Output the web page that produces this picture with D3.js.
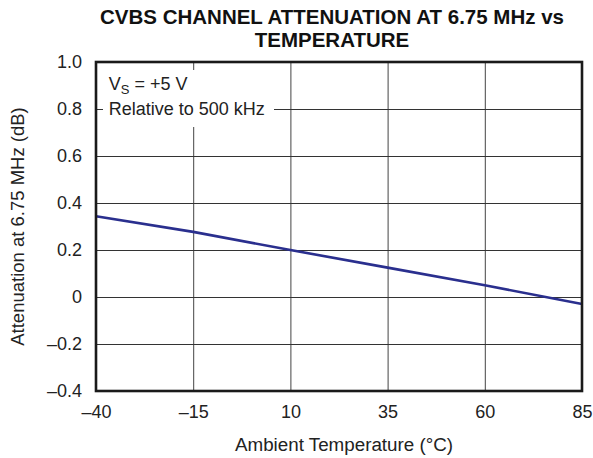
<!DOCTYPE html>
<html>
<head>
<meta charset="utf-8">
<script src="https://cdn.jsdelivr.net/npm/d3@7"></script>
<style>
  html, body { margin: 0; padding: 0; background: #fff; }
  svg { display: block; font-family: "Liberation Sans", Arial, Helvetica, sans-serif; }
</style>
</head>
<body>
<svg id="chart" width="593" height="458"></svg>
<script>
// ---- data ----
const titleLines = ["CVBS CHANNEL ATTENUATION AT 6.75 MHz vs", "TEMPERATURE"];
const xLabel = "Ambient Temperature (°C)";
const yLabel = "Attenuation at 6.75 MHz (dB)";
const temperatures = [-40, -15, 10, 35, 60, 85];
const attenuation = [0.344, 0.277, 0.200, 0.125, 0.050, -0.030];
const xTicks = [-40, -15, 10, 35, 60, 85];
const yTicks = [-0.4, -0.2, 0, 0.2, 0.4, 0.6, 0.8, 1.0];
const annotationLines = ["Relative to 500 kHz"];

// ---- layout ----
const svg = d3.select("#chart");
const margin = { left: 96, right: 11, top: 62, bottom: 67 };
const W = 593, H = 458;
const w = W - margin.left - margin.right;
const h = H - margin.top - margin.bottom;

const x = d3.scaleLinear().domain([-40, 85]).range([0, w]);
const y = d3.scaleLinear().domain([-0.4, 1.0]).range([h, 0]);

const fmtX = d => (d < 0 ? "\u2013" + Math.abs(d) : String(d));
const fmtY = d => {
  if (Math.abs(d) < 1e-9) return "0";
  const s = Math.abs(d).toFixed(1);
  return d < 0 ? "\u2013" + s : s;
};

const g = svg.append("g").attr("transform", `translate(${margin.left},${margin.top})`);

// title
svg.append("g").selectAll("text").data(titleLines).join("text")
  .attr("x", 332)
  .attr("y", (d, i) => 24 + i * 22.5)
  .attr("text-anchor", "middle")
  .attr("font-weight", "bold")
  .attr("font-size", "20.5px")
  .attr("fill", "#111")
  .text(d => d);

// x axis with gridlines
const xAxis = g.append("g")
  .attr("transform", `translate(0,${h})`)
  .call(d3.axisBottom(x).tickValues(xTicks).tickFormat(fmtX).tickSize(-h).tickPadding(14));
xAxis.select(".domain").remove();
xAxis.selectAll(".tick line").attr("stroke", "#444").attr("stroke-width", 1);
xAxis.selectAll(".tick text").attr("font-size", "18px").attr("fill", "#222")
  .attr("font-family", "Liberation Sans, Arial, sans-serif");

// y axis with gridlines
const yAxis = g.append("g")
  .call(d3.axisLeft(y).tickValues(yTicks).tickFormat(fmtY).tickSize(-w).tickPadding(14));
yAxis.select(".domain").remove();
yAxis.selectAll(".tick line").attr("stroke", "#333").attr("stroke-width", 1);
yAxis.selectAll(".tick text").attr("font-size", "18px").attr("fill", "#222")
  .attr("font-family", "Liberation Sans, Arial, sans-serif");

// annotation box (covers gridlines)
g.append("rect")
  .attr("x", 7).attr("y", 8).attr("width", 171).attr("height", 57)
  .attr("fill", "#fff");

const ann = g.append("text")
  .attr("x", 12.7).attr("y", 28.3)
  .attr("font-size", "18px").attr("fill", "#222");
ann.append("tspan").text("V");
ann.append("tspan").attr("font-size", "13px").attr("dy", 3.5).text("S");
ann.append("tspan").attr("dy", -3.5).text(" = +5 V");

g.append("g").selectAll("text").data(annotationLines).join("text")
  .attr("x", 12.7).attr("y", (d, i) => 53.3 + i * 25)
  .attr("font-size", "18px").attr("fill", "#222")
  .text(d => d);

// data line
const pts = temperatures.map((t, i) => [t, attenuation[i]]);
g.append("path")
  .datum(pts)
  .attr("fill", "none")
  .attr("stroke", "#2a2f8e")
  .attr("stroke-width", 2.6)
  .attr("d", d3.line().x(d => x(d[0])).y(d => y(d[1])));

// plot border
g.append("rect")
  .attr("x", 0).attr("y", 0).attr("width", w).attr("height", h)
  .attr("fill", "none").attr("stroke", "#1a1a1a").attr("stroke-width", 2.6);

// axis titles
svg.append("text")
  .attr("x", 344).attr("y", 450.5)
  .attr("text-anchor", "middle")
  .attr("font-size", "18.8px").attr("fill", "#222")
  .text(xLabel);

svg.append("text")
  .attr("transform", `translate(23.5,${margin.top + h / 2}) rotate(-90)`)
  .attr("text-anchor", "middle")
  .attr("font-size", "18.5px").attr("fill", "#222")
  .text(yLabel);
</script>
</body>
</html>
